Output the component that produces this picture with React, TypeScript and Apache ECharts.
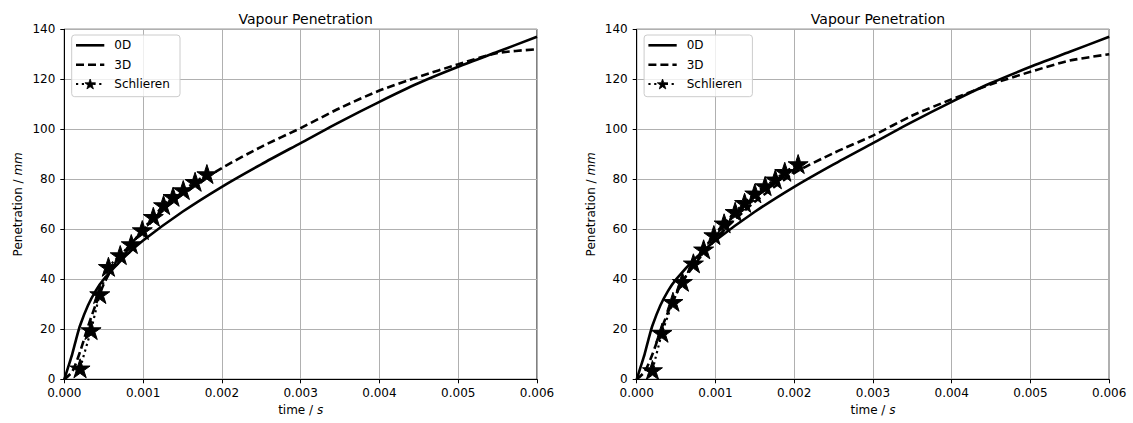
import React, { useEffect, useRef } from "react";
import * as echarts from "echarts";

// ---- data ----
const T_0D = [0, 0.00005, 0.0001, 0.00015, 0.0002, 0.0003, 0.0004, 0.0005, 0.00075, 0.001, 0.0015, 0.002, 0.0025, 0.003, 0.0035, 0.004, 0.0045, 0.005, 0.0055, 0.006];
const P_0D = [0, 5, 10, 16, 21.5, 29.5, 35.5, 40, 48.5, 55.5, 67, 77, 86, 94.5, 103, 111, 118.5, 125, 131, 137];

const T_3D = [0, 0.0001, 0.0002, 0.0003, 0.0004, 0.0005, 0.0006, 0.0008, 0.001, 0.0012, 0.0015, 0.002, 0.0025, 0.003, 0.0035, 0.004, 0.0045, 0.005, 0.0055, 0.006];
const P_3D_LEFT = [0, 3, 11, 21, 30, 38, 44, 52.5, 59.5, 66, 74.5, 84.5, 93, 100.5, 108.5, 115.5, 121, 126, 130.5, 132];
const P_3D_RIGHT = [0, 3, 10, 19, 27, 34, 40, 48.5, 56, 62.5, 71, 82.5, 90.5, 97.5, 105.5, 112, 118, 123, 127.5, 130];

const T_SCH_LEFT = [0.0002, 0.00034, 0.00045, 0.00056, 0.00071, 0.00085, 0.00099, 0.00113, 0.00126, 0.00138, 0.00151, 0.00166, 0.00181];
const P_SCH_LEFT = [4.4, 19.7, 34.1, 45, 49.7, 54.1, 59.7, 65, 69.7, 73, 75.7, 79, 82.1];

const T_SCH_RIGHT = [0.0002, 0.00032, 0.00046, 0.00058, 0.00072, 0.00085, 0.00098, 0.00111, 0.00125, 0.00137, 0.0015, 0.00163, 0.00176, 0.00188, 0.00205];
const P_SCH_RIGHT = [3.7, 18.6, 31, 39, 46.4, 52, 57.7, 62.4, 67, 70.6, 74.4, 77.3, 80, 83, 86.1];

const TITLE = "Vapour Penetration";
const NAMES = ["0D", "3D", "Schlieren"];

const STAR =
  "path://M50,0L61.17,34.63L97.55,34.55L68.07,55.87L79.39,90.45L50,69L20.61,90.45L31.93,55.87L2.45,34.55L38.83,34.63Z";

const FONT = "DejaVu Sans";
const DASH = [8, 4];
const DOT = [2.2, 3.6];

const zip = (a: number[], b: number[]) => a.map((v, i) => [v, b[i]]);

function starPoints(cx: number, cy: number, R: number, r: number) {
  const pts: number[][] = [];
  for (let k = 0; k < 10; k++) {
    const ang = -Math.PI / 2 + (k * Math.PI) / 5;
    const rad = k % 2 === 0 ? R : r;
    pts.push([cx + rad * Math.cos(ang), cy + rad * Math.sin(ang)]);
  }
  return pts;
}

export default function App() {
  const ref = useRef<HTMLDivElement>(null);
  useEffect(() => {
    if (!ref.current) return;
    const chart = echarts.init(ref.current, null, { renderer: "svg" });

    const grids = [
      { left: 64.3, top: 29.3, width: 472.7, height: 350 },
      { left: 636.7, top: 29.3, width: 472.5, height: 350 },
    ];

    const nameStyle = {
      fontFamily: FONT,
      fontSize: 12,
      color: "#000",
      rich: { i: { fontStyle: "italic", fontFamily: FONT, fontSize: 12, color: "#000" } },
    };

    const xAxis = grids.map((_, i) => ({
      type: "value",
      gridIndex: i,
      min: 0,
      max: 0.006,
      interval: 0.001,
      name: "time / {i|s}",
      nameLocation: "middle",
      nameGap: 22,
      nameTextStyle: nameStyle,
      axisLine: { show: true, onZero: false, lineStyle: { color: "#000", width: 1 } },
      axisTick: { show: true, inside: false, length: 4, lineStyle: { color: "#000", width: 1 } },
      axisLabel: {
        margin: 8,
        fontFamily: FONT,
        fontSize: 12,
        color: "#000",
        formatter: (v: number) => v.toFixed(3),
      },
      splitLine: { show: true, lineStyle: { color: "#b0b0b0", width: 1 } },
    }));

    const yAxis = grids.map((_, i) => ({
      type: "value",
      gridIndex: i,
      min: 0,
      max: 140,
      interval: 20,
      name: "Penetration / {i|mm}",
      nameLocation: "middle",
      nameGap: 40,
      nameTextStyle: nameStyle,
      axisLine: { show: true, onZero: false, lineStyle: { color: "#000", width: 1 } },
      axisTick: { show: true, inside: false, length: 4, lineStyle: { color: "#000", width: 1 } },
      axisLabel: { margin: 9, fontFamily: FONT, fontSize: 12, color: "#000" },
      splitLine: { show: true, lineStyle: { color: "#b0b0b0", width: 1 } },
    }));

    const mkSeries = (gi: number, p3d: number[], ts: number[], ps: number[]) => [
      {
        name: NAMES[0],
        type: "line",
        xAxisIndex: gi,
        yAxisIndex: gi,
        data: zip(T_0D, P_0D),
        symbol: "none",
        smooth: 0.25,
        lineStyle: { color: "#000", width: 2.6, type: "solid" },
        itemStyle: { color: "#000" },
      },
      {
        name: NAMES[1],
        type: "line",
        xAxisIndex: gi,
        yAxisIndex: gi,
        data: zip(T_3D, p3d),
        symbol: "none",
        smooth: 0.25,
        lineStyle: { color: "#000", width: 2.6, type: DASH },
        itemStyle: { color: "#000" },
      },
      {
        name: NAMES[2],
        type: "line",
        xAxisIndex: gi,
        yAxisIndex: gi,
        data: zip(ts, ps),
        symbol: STAR,
        symbolSize: 20,
        symbolKeepAspect: true,
        showAllSymbol: true,
        lineStyle: { color: "#000", width: 2.2, type: DOT },
        itemStyle: { color: "#000", borderColor: "#000", borderWidth: 1 },
        z: 3,
      },
    ];

    // legend drawn as graphic (matplotlib-like)
    const legendEls: any[] = [];
    grids.forEach((g) => {
      const bx = g.left + 7.4;
      const by = 35;
      legendEls.push({
        type: "rect",
        shape: { x: bx, y: by, width: 108.3, height: 61.7, r: 3 },
        style: { fill: "rgba(255,255,255,0.8)", stroke: "#cccccc", lineWidth: 1 },
        z: 100,
      });
      const rows = [45.3, 64.7, 84];
      const x1 = g.left + 11.7;
      const x2 = g.left + 40;
      rows.forEach((ry, k) => {
        const style: any = { stroke: "#000", lineWidth: k === 2 ? 2.2 : 2.6, fill: null };
        if (k === 1) style.lineDash = DASH;
        if (k === 2) style.lineDash = DOT;
        legendEls.push({ type: "line", shape: { x1, y1: ry, x2, y2: ry }, style, z: 101 });
        if (k === 2) {
          legendEls.push({
            type: "polygon",
            shape: { points: starPoints((x1 + x2) / 2, ry + 0.5, 5.5, 2.2) },
            style: { fill: "#000", stroke: "#000", lineWidth: 0.8 },
            z: 102,
          });
        }
        legendEls.push({
          type: "text",
          x: g.left + 50,
          y: ry,
          style: {
            text: NAMES[k],
            fontFamily: FONT,
            fontSize: 12,
            fill: "#000",
            verticalAlign: "middle",
            align: "left",
          },
          z: 102,
        });
      });
    });

    const option = {
      animation: false,
      backgroundColor: "#fff",
      title: grids.map((g) => ({
        text: TITLE,
        left: g.left + g.width / 2,
        top: 7,
        textAlign: "center",
        textStyle: { fontFamily: FONT, fontSize: 14, fontWeight: "normal", color: "#000" },
      })),
      grid: grids.map((g) => ({
        ...g,
        show: true,
        borderColor: "#000",
        borderWidth: 1,
        backgroundColor: "transparent",
      })),
      graphic: { elements: legendEls },
      xAxis,
      yAxis,
      series: [
        ...mkSeries(0, P_3D_LEFT, T_SCH_LEFT, P_SCH_LEFT),
        ...mkSeries(1, P_3D_RIGHT, T_SCH_RIGHT, P_SCH_RIGHT),
      ],
    };
    chart.setOption(option as any);
    return () => chart.dispose();
  }, []);

  return (
    <div
      ref={ref}
      style={{ position: "absolute", left: 0, top: 0, width: 1133, height: 423 }}
    />
  );
}
